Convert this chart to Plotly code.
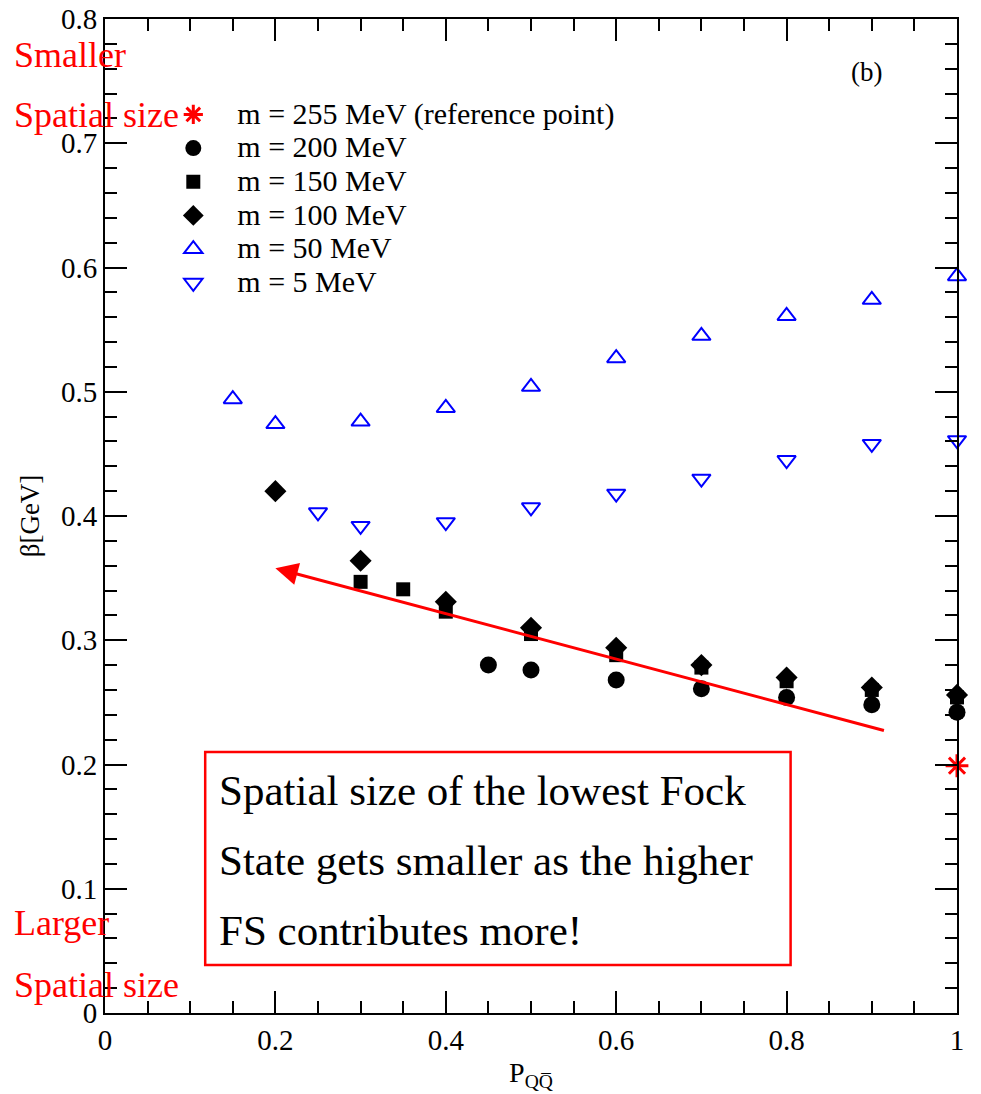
import plotly.graph_objects as go

# ---- data ----
x_ref = [1.0]
y_ref = [0.199]

x_m200 = [0.45, 0.5, 0.6, 0.7, 0.8, 0.9, 1.0]
y_m200 = [0.280, 0.276, 0.268, 0.261, 0.254, 0.248, 0.242]

x_m150 = [0.3, 0.35, 0.4, 0.5, 0.6, 0.7, 0.8, 0.9, 1.0]
y_m150 = [0.347, 0.341, 0.323, 0.305, 0.288, 0.278, 0.267, 0.260, 0.254]

x_m100 = [0.2, 0.3, 0.4, 0.5, 0.6, 0.7, 0.8, 0.9, 1.0]
y_m100 = [0.420, 0.364, 0.331, 0.310, 0.294, 0.280, 0.270, 0.262, 0.256]

x_m50 = [0.15, 0.2, 0.3, 0.4, 0.5, 0.6, 0.7, 0.8, 0.9, 1.0]
y_m50 = [0.494, 0.474, 0.476, 0.487, 0.504, 0.527, 0.545, 0.561, 0.574, 0.593]

x_m5 = [0.25, 0.3, 0.4, 0.5, 0.6, 0.7, 0.8, 0.9, 1.0]
y_m5 = [0.403, 0.392, 0.395, 0.407, 0.418, 0.430, 0.445, 0.458, 0.461]

names = ["m = 255 MeV (reference point)", "m = 200 MeV", "m = 150 MeV",
         "m = 100 MeV", "m = 50 MeV", "m = 5 MeV"]

SERIF = "Liberation Serif, Times New Roman, serif"
RED = "#ff0000"
BLUE = "#0000ff"

def lab(t):
    return '<span style="font-size:30px">' + t + '</span>'

fig = go.Figure()
fig.add_trace(go.Scatter(x=x_ref, y=y_ref, mode="markers", name=lab(names[0]),
                         marker=dict(symbol="asterisk-open", size=19, color=RED,
                                     line=dict(color=RED, width=3)),
                         cliponaxis=False))
fig.add_trace(go.Scatter(x=x_m200, y=y_m200, mode="markers", name=lab(names[1]),
                         marker=dict(symbol="circle", size=17, color="black"),
                         cliponaxis=False))
fig.add_trace(go.Scatter(x=x_m150, y=y_m150, mode="markers", name=lab(names[2]),
                         marker=dict(symbol="square", size=14, color="black"),
                         cliponaxis=False))
fig.add_trace(go.Scatter(x=x_m100, y=y_m100, mode="markers", name=lab(names[3]),
                         marker=dict(symbol="diamond", size=17, color="black"),
                         cliponaxis=False))
fig.add_trace(go.Scatter(x=x_m50, y=y_m50, mode="markers", name=lab(names[4]),
                         marker=dict(symbol="triangle-up-open", size=16, color=BLUE,
                                     line=dict(color=BLUE, width=2)),
                         cliponaxis=False))
fig.add_trace(go.Scatter(x=x_m5, y=y_m5, mode="markers", name=lab(names[5]),
                         marker=dict(symbol="triangle-down-open", size=16, color=BLUE,
                                     line=dict(color=BLUE, width=2)),
                         cliponaxis=False))

axis_common = dict(
    showgrid=False, zeroline=False, showline=True, linecolor="black", linewidth=2,
    mirror="allticks", ticks="inside", ticklen=22, tickwidth=2, tickcolor="black",
    tickfont=dict(family=SERIF, size=29, color="black"), automargin=False,
)
fig.update_xaxes(range=[0, 1], dtick=0.2, tick0=0,
                 minor=dict(dtick=0.05, ticks="inside", ticklen=12, tickwidth=2, tickcolor="black"),
                 title=dict(text="P<sub>QQ\u0305</sub>", font=dict(family=SERIF, size=28, color="black"),
                            standoff=8),
                 **axis_common)
fig.update_yaxes(range=[0, 0.8], dtick=0.1, tick0=0,
                 minor=dict(dtick=0.02, ticks="inside", ticklen=12, tickwidth=2, tickcolor="black"),
                 title=dict(text="β[GeV]", font=dict(family=SERIF, size=27, color="black"),
                            standoff=14),
                 **axis_common)

# box
fig.add_shape(type="rect", xref="x", yref="y", x0=0.1176, x1=0.8047, y0=0.0386, y1=0.21,
              line=dict(color=RED, width=2.5), fillcolor="rgba(0,0,0,0)")
box_lines = ["Spatial size of the lowest Fock", "State gets smaller as the higher",
             "FS contributes more!"]
for t, yy in zip(box_lines, [0.1794, 0.1231, 0.0668]):
    fig.add_annotation(x=0.132, y=yy, xref="x", yref="y", text=t, showarrow=False,
                       xanchor="left", yanchor="middle",
                       font=dict(family=SERIF, size=43, color="black"))

# arrow
fig.add_annotation(x=0.2, y=0.358, ax=0.916, ay=0.227, xref="x", yref="y",
                   axref="x", ayref="y", text="", showarrow=True,
                   arrowhead=2, arrowsize=1.5, arrowwidth=3, arrowcolor=RED)

# side labels
side = [("Smaller", 0.9638), ("Spatial size", 0.9034), ("Larger", 0.0905), ("Spatial size", 0.0282)]
for t, yy in side:
    fig.add_annotation(x=-0.109, y=yy, xref="paper", yref="paper", text=t, showarrow=False,
                       xanchor="left", yanchor="middle",
                       font=dict(family=SERIF, size=36, color=RED))

fig.add_annotation(x=0.894, y=0.9467, xref="paper", yref="paper", text="(b)", showarrow=False,
                   xanchor="center", yanchor="middle",
                   font=dict(family=SERIF, size=27, color="black"))

fig.update_layout(
    width=981, height=1094,
    margin=dict(l=105, r=24, t=19, b=81),
    paper_bgcolor="white", plot_bgcolor="white",
    showlegend=True,
    legend=dict(x=0.052, y=0.926, xanchor="left", yanchor="top",
                bgcolor="rgba(0,0,0,0)", borderwidth=0,
                font=dict(family=SERIF, size=23.6, color="black"),
                itemwidth=78, tracegroupgap=0),
)

fig.write_html("out.html")
